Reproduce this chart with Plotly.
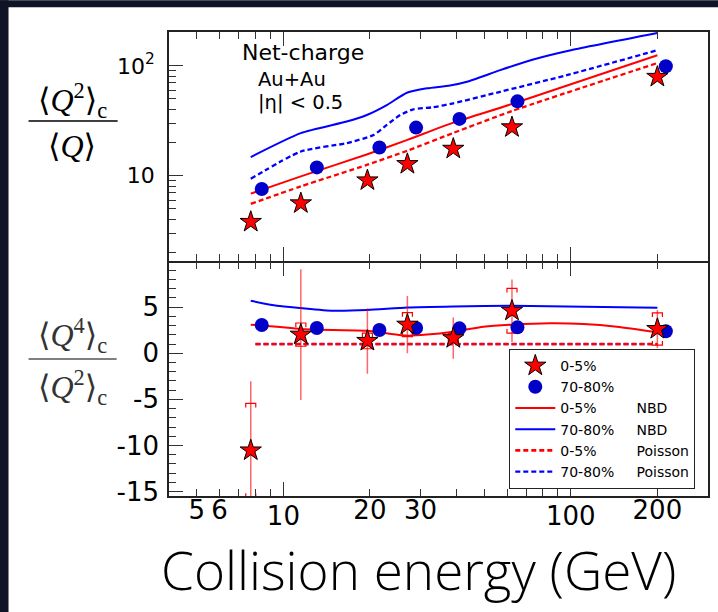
import plotly.graph_objects as go

# ---------------- data ----------------
energy = [7.7, 11.5, 19.6, 27, 39, 62.4, 200]
energy_periph = [8.41, 13.07, 21.58, 28.95, 40.97, 65.2, 214]

c2c1_central = [3.80, 5.61, 9.07, 12.77, 17.6, 27.6, 79.4]
c2c1_periph = [7.57, 11.9, 18.06, 27.4, 32.9, 47.5, 99.3]

c4c2_central = [-10.54, 2.02, 1.34, 3.1, 1.64, 4.61, 2.63]
c4c2_central_stat = [7.5, 7.1, 3.55, 3.1, 2.25, 3.4, 2.07]
c4c2_central_sys = [5.1, 1.26, 0.85, 1.3, 0.5, 2.43, 1.74]
c4c2_periph = [3.06, 2.74, 2.52, 2.74, 2.7, 2.81, 2.38]

# model curves, top panel
nbd_central_top_e = [7.7, 11.5, 19.6, 27, 39, 62.4, 200]
nbd_central_top = [6.87, 9.86, 15.7, 21.2, 30.4, 45.0, 125]
poi_central_top_e = [7.7, 11.5, 19.6, 27, 39, 62.4, 200]
poi_central_top = [5.54, 8.0, 12.6, 16.9, 24.5, 38.8, 106]
nbd_periph_top_e = [7.7, 11.5, 16.6, 19.5, 22.9, 26.9, 31.6, 38, 43.5, 56.8, 74, 100, 200]
nbd_periph_top = [14.8, 24.4, 31.1, 35.7, 44.0, 56.9, 62.4, 66.2, 71.6, 91.4, 114.3, 138.7, 199]
poi_periph_top_e = [7.7, 11.5, 16.6, 20.6, 22.9, 25.5, 28.3, 33.2, 39, 56.8, 96.8, 200]
poi_periph_top = [9.39, 16.6, 19.8, 23.5, 29.0, 35.7, 40.2, 42.0, 45.6, 58.1, 82.3, 138.7]

# model curves, bottom panel
nbd_central_bot_e = [7.7, 9.5, 11.5, 14.9, 19.6, 22.9, 27, 31.6, 39, 49.7, 62.4, 84.7, 110.7, 144.6, 200]
nbd_central_bot = [3.1, 2.88, 2.63, 2.52, 2.45, 2.16, 1.91, 2.02, 2.34, 2.88, 3.1, 3.24, 3.17, 2.88, 2.27]
nbd_periph_bot_e = [7.7, 9.5, 11.5, 14.9, 19.6, 27, 39, 62.4, 200]
nbd_periph_bot = [5.69, 5.15, 4.9, 4.61, 4.69, 4.97, 5.08, 5.15, 4.94]
poi_bot_e = [8.0, 200]
poi_central_bot = [1.0, 1.0]
poi_periph_bot = [1.0, 1.0]

x_major = [10, 100]
x_major_text = ["10", "100"]
x_extra = [5, 6, 20, 30, 200]
x_extra_text = ["5", "6", "20", "30", "200"]
x_minor = [4, 5, 6, 7, 8, 9, 20, 30, 40, 50, 60, 70, 80, 90, 200, 300]
y1_major = [10, 100]
y1_major_text = ["10", "10<sup>2</sup>"]
y1_minor = [2, 3, 4, 5, 6, 7, 8, 9, 20, 30, 40, 50, 60, 70, 80, 90, 200]
y2_major = [-15, -10, -5, 0, 5]
y2_major_text = ["-15", "-10", "-5", "0", "5"]

# ---------------- styles / layout helpers ----------------
RED = "#ff0000"
BLUE = "#0000ff"
DOT_BLUE = "#0000c8"
FONT = "DejaVu Sans"
W_PX, H_PX = 718, 612
L, R, T, B = 169.3, 707.7, 31.7, 496.0
PW, PH = R - L, B - T
LW = 1.5
NB = "\u00a0"


def px2x(px):
    return (px - L) / PW


def py2y(py):
    return (B - py) / PH


split_px = 261.7
top_dom0 = py2y(split_px - LW / 2)
bot_dom1 = py2y(split_px + LW / 2)
xr = [0.6021, 2.4771]
y1r = [0.223, 2.308]
y2r = [-15.48, 9.83]

fig = go.Figure()

# ---- top panel ----
fig.add_trace(go.Scatter(x=poi_periph_top_e, y=poi_periph_top, mode="lines", xaxis="x", yaxis="y",
                         line=dict(color=BLUE, width=2.3, dash="5px,3px", shape="spline", smoothing=0.6),
                         showlegend=False, hoverinfo="skip"))
fig.add_trace(go.Scatter(x=poi_central_top_e, y=poi_central_top, mode="lines", xaxis="x", yaxis="y",
                         line=dict(color=RED, width=2.3, dash="5px,3px", shape="spline", smoothing=0.6),
                         showlegend=False, hoverinfo="skip"))
fig.add_trace(go.Scatter(x=nbd_periph_top_e, y=nbd_periph_top, mode="lines", xaxis="x", yaxis="y",
                         line=dict(color=BLUE, width=2, shape="spline", smoothing=0.6),
                         showlegend=False, hoverinfo="skip"))
fig.add_trace(go.Scatter(x=nbd_central_top_e, y=nbd_central_top, mode="lines", xaxis="x", yaxis="y",
                         line=dict(color=RED, width=2, shape="spline", smoothing=0.6),
                         showlegend=False, hoverinfo="skip"))
fig.add_trace(go.Scatter(x=energy_periph, y=c2c1_periph, mode="markers", xaxis="x", yaxis="y",
                         marker=dict(symbol="circle", size=14, color=DOT_BLUE),
                         showlegend=False))
fig.add_trace(go.Scatter(x=energy, y=c2c1_central, mode="markers", xaxis="x", yaxis="y",
                         marker=dict(symbol="star", size=16, color=RED, line=dict(color="black", width=1)),
                         showlegend=False))

# ---- bottom panel ----
fig.add_trace(go.Scatter(x=poi_bot_e, y=poi_periph_bot, mode="lines", xaxis="x2", yaxis="y2",
                         line=dict(color=BLUE, width=2.3, dash="5px,3px"),
                         name="70-80%" + NB * 5 + "Poisson", legendrank=6))
fig.add_trace(go.Scatter(x=poi_bot_e, y=poi_central_bot, mode="lines", xaxis="x2", yaxis="y2",
                         line=dict(color=RED, width=2.6, dash="5px,3px"),
                         name="0-5%" + NB * 9 + "Poisson", legendrank=5))
fig.add_trace(go.Scatter(x=nbd_periph_bot_e, y=nbd_periph_bot, mode="lines", xaxis="x2", yaxis="y2",
                         line=dict(color=BLUE, width=2, shape="spline", smoothing=0.6),
                         name="70-80%" + NB * 5 + "NBD", legendrank=4))
fig.add_trace(go.Scatter(x=nbd_central_bot_e, y=nbd_central_bot, mode="lines", xaxis="x2", yaxis="y2",
                         line=dict(color=RED, width=2, shape="spline", smoothing=0.6),
                         name="0-5%" + NB * 9 + "NBD", legendrank=3))

# systematic brackets built from the data arrays
fx = 10 ** (5 / (PW / (xr[1] - xr[0])))
bx, by = [], []
for e, v, s in zip(energy, c4c2_central, c4c2_central_sys):
    t = min(0.45, s)
    bx += [e / fx, e / fx, e * fx, e * fx, None, e / fx, e / fx, e * fx, e * fx, None]
    by += [v + s - t, v + s, v + s, v + s - t, None, v - s + t, v - s, v - s, v - s + t, None]
fig.add_trace(go.Scatter(x=bx, y=by, mode="lines", xaxis="x2", yaxis="y2",
                         line=dict(color=RED, width=1.2), showlegend=False, hoverinfo="skip"))
# statistical errors
fig.add_trace(go.Scatter(x=energy, y=c4c2_central, mode="markers", xaxis="x2", yaxis="y2",
                         marker=dict(size=2, color="rgba(0,0,0,0)"),
                         error_y=dict(type="data", array=c4c2_central_stat, color="rgba(255,0,0,0.6)",
                                      thickness=1.5, width=0),
                         showlegend=False, hoverinfo="skip"))
fig.add_trace(go.Scatter(x=energy_periph, y=c4c2_periph, mode="markers", xaxis="x2", yaxis="y2",
                         marker=dict(symbol="circle", size=14, color=DOT_BLUE),
                         name="70-80%", legendrank=2))
fig.add_trace(go.Scatter(x=energy, y=c4c2_central, mode="markers", xaxis="x2", yaxis="y2",
                         marker=dict(symbol="star", size=16, color=RED, line=dict(color="black", width=1)),
                         name="0-5%", legendrank=1))
# empty trace to host the overlay axis carrying extra tick labels
fig.add_trace(go.Scatter(x=[], y=[], xaxis="x3", yaxis="y2", showlegend=False, hoverinfo="skip"))

axis_common = dict(showgrid=False, zeroline=False, showline=True, linecolor="#222", linewidth=LW,
                   ticks="inside", tickcolor="#333", tickwidth=1.2, automargin=False)
xtickfont = dict(family=FONT, size=26, color="black")
minor_style = dict(ticklen=7, ticks="inside", tickcolor="#333", tickwidth=1.2)

fig.update_layout(
    width=W_PX, height=H_PX,
    margin=dict(l=L, r=W_PX - R, t=T, b=H_PX - B, pad=0, autoexpand=False),
    paper_bgcolor="white", plot_bgcolor="white",
    font=dict(family=FONT, color="black"),
    xaxis=dict(type="log", range=xr, domain=[0, 1], anchor="y", mirror="ticks",
               tickvals=x_major, ticktext=x_major_text, showticklabels=False, ticklen=14,
               minor=dict(tickvals=x_minor, **minor_style), **axis_common),
    xaxis2=dict(type="log", range=xr, domain=[0, 1], anchor="y2", mirror="ticks",
                tickvals=x_major, ticktext=x_major_text, showticklabels=True, ticklen=14,
                tickfont=xtickfont, ticklabelstandoff=-4,
                minor=dict(tickvals=x_minor, **minor_style), **axis_common),
    xaxis3=dict(type="log", range=xr, overlaying="x2", anchor="y2", side="bottom",
                tickvals=x_extra, ticktext=x_extra_text, showticklabels=True, ticks="",
                showline=False, showgrid=False, zeroline=False, automargin=False,
                tickfont=xtickfont, ticklabelstandoff=-4),
    yaxis=dict(type="log", range=y1r, domain=[top_dom0, 1], anchor="x", mirror=True,
               tickvals=y1_major, ticktext=y1_major_text, ticklen=14,
               tickfont=dict(family=FONT, size=22, color="black"), ticklabelstandoff=8,
               minor=dict(tickvals=y1_minor, **minor_style), **axis_common),
    yaxis2=dict(type="linear", range=y2r, domain=[0, bot_dom1], anchor="x2", mirror=True,
                tickvals=y2_major, ticktext=y2_major_text, ticklen=14,
                tickfont=dict(family=FONT, size=26, color="black"), ticklabelstandoff=3,
                minor=dict(dtick=1, **minor_style), **axis_common),
    legend=dict(x=px2x(695), y=py2y(489), xanchor="right", yanchor="bottom",
                bgcolor="white", bordercolor="#222", borderwidth=1,
                font=dict(family=FONT, size=14, color="black"),
                tracegroupgap=0, itemwidth=40),
    showlegend=True,
)

# dark frame bands around the picture
dark = "#0f1426"
fig.add_shape(type="rect", xref="paper", yref="paper", x0=px2x(0), x1=px2x(9), y0=py2y(612), y1=py2y(0),
              fillcolor=dark, line=dict(width=0), layer="above")
fig.add_shape(type="rect", xref="paper", yref="paper", x0=px2x(0), x1=px2x(718), y0=py2y(7), y1=py2y(0),
              fillcolor=dark, line=dict(width=0), layer="above")

# fraction bars for the y titles
fig.add_shape(type="line", xref="paper", yref="paper", x0=px2x(29), x1=px2x(118), y0=py2y(120.7), y1=py2y(120.7),
              line=dict(color="black", width=1.5))
fig.add_shape(type="line", xref="paper", yref="paper", x0=px2x(29), x1=px2x(117), y0=py2y(359), y1=py2y(359),
              line=dict(color="#555", width=1.5))

serif = dict(family="Liberation Serif, DejaVu Serif, serif", size=32, color="black")
serif2 = dict(family="Liberation Serif, DejaVu Serif, serif", size=32, color="#333")
annots = [
    dict(text="⟨<i>Q</i><sup>2</sup>⟩<sub>c</sub>", x=px2x(73), y=py2y(100), font=serif),
    dict(text="⟨<i>Q</i>⟩", x=px2x(72), y=py2y(146), font=serif),
    dict(text="⟨<i>Q</i><sup>4</sup>⟩<sub>c</sub>", x=px2x(73), y=py2y(335), font=serif2),
    dict(text="⟨<i>Q</i><sup>2</sup>⟩<sub>c</sub>", x=px2x(73), y=py2y(387), font=serif2),
]
for a in annots:
    fig.add_annotation(xref="paper", yref="paper", showarrow=False, xanchor="center", yanchor="middle", **a)

fig.add_annotation(text="Net-charge", xref="paper", yref="paper", x=px2x(240), y=py2y(52.3),
                   xanchor="left", yanchor="middle", showarrow=False, font=dict(family=FONT, size=22, color="black"))
fig.add_annotation(text="Au+Au", xref="paper", yref="paper", x=px2x(256), y=py2y(79.3),
                   xanchor="left", yanchor="middle", showarrow=False, font=dict(family=FONT, size=19.5, color="black"))
fig.add_annotation(text="|η| &lt; 0.5", xref="paper", yref="paper", x=px2x(256), y=py2y(102.7),
                   xanchor="left", yanchor="middle", showarrow=False, font=dict(family=FONT, size=19.5, color="black"))

fig.add_annotation(text="Collision energy (GeV)", xref="paper", yref="paper", x=px2x(418.5), y=py2y(570),
                   xanchor="center", yanchor="middle", showarrow=False,
                   font=dict(family="Open Sans, Noto Sans, sans-serif", size=53, color="black", weight=300))

fig.write_html("out.html", config={"displayModeBar": False},
               post_script="document.body.style.margin='0px';document.body.style.overflow='hidden';")
